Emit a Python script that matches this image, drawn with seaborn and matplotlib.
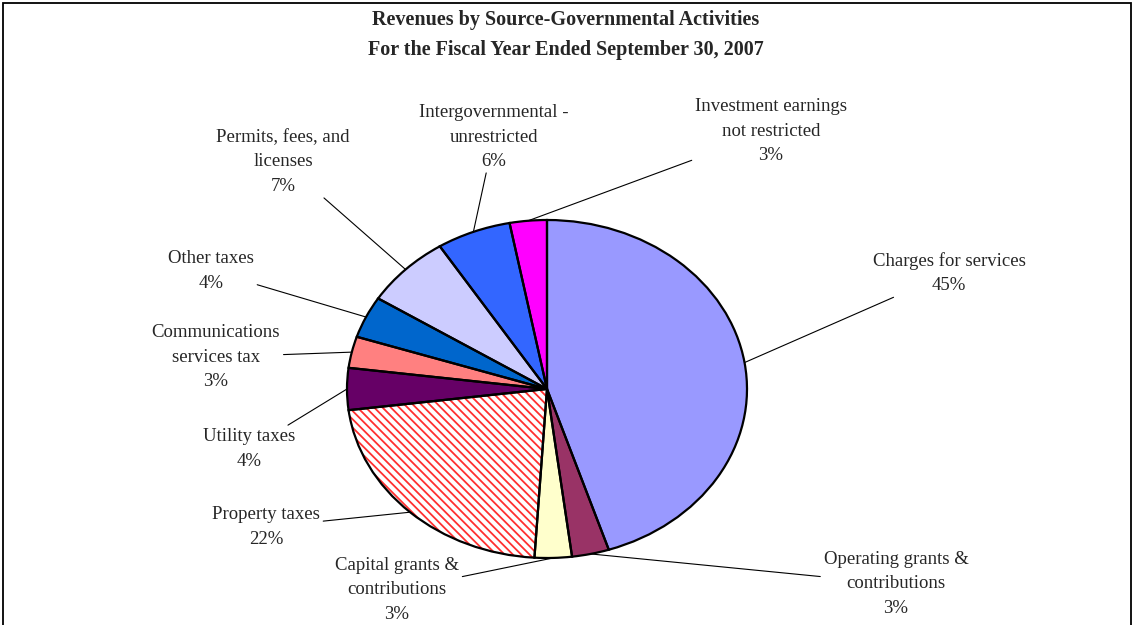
import numpy as np
import matplotlib
matplotlib.use("Agg")
import matplotlib.pyplot as plt
import seaborn as sns
from matplotlib.patches import Rectangle

# data
categories = [
    "Charges for services",
    "Operating grants &\ncontributions",
    "Capital grants &\ncontributions",
    "Property taxes",
    "Utility taxes",
    "Communications\nservices tax",
    "Other taxes",
    "Permits, fees, and\nlicenses",
    "Intergovernmental -\nunrestricted",
    "Investment earnings\nnot restricted",
]
percents = [45, 3, 3, 22, 4, 3, 4, 7, 6, 3]
slice_colors = ["#9999FF", "#993366", "#FFFFCC", "#FFFFFF", "#660066",
                "#FF8080", "#0066CC", "#CCCCFF", "#3366FF", "#FF00FF"]

# label centres in pixels (x, y from top)
label_pos = [(949, 273), (896, 584), (397, 590), (266, 527), (249, 449),
             (216, 357), (211, 271), (283, 162), (494, 137), (771, 131)]

sns.set_style("white")
plt.rcParams["font.family"] = ["Liberation Serif", "DejaVu Serif"]
plt.rcParams["hatch.linewidth"] = 1.3

W, H = 1133, 625
fig = plt.figure(figsize=(W / 100, H / 100), dpi=100)

# elliptical pie: centre (547, 389), semi-axes 200 x 169 px
cx, cy, rx, ry = 547, 389, 200, 169
ax = fig.add_axes([(cx - rx) / W, (H - cy - ry) / H, 2 * rx / W, 2 * ry / H])

wedges, _ = ax.pie(percents, colors=slice_colors, startangle=90, counterclock=False,
                   wedgeprops=dict(linewidth=0))
# property taxes: red diagonal hatch on white
wedges[3].set_hatch("\\\\\\\\")
wedges[3].set_edgecolor("#FF3030")
wedges[3].set_linewidth(0)
# black outlines on top
ax.pie(percents, colors=["none"] * len(percents), startangle=90, counterclock=False,
       wedgeprops=dict(fill=False, edgecolor="black", linewidth=1.6))
ax.set_aspect("auto")
ax.set_xlim(-1.0, 1.0)
ax.set_ylim(-1.0, 1.0)
ax.axis("off")

cum = np.cumsum([0] + percents[:-1])
for i, (name, p) in enumerate(zip(categories, percents)):
    theta = np.deg2rad(90 - 360 * (cum[i] + p / 2) / 100)
    px, py = label_pos[i]
    ax.annotate(f"{name}\n{p}%", xy=(np.cos(theta), np.sin(theta)), xycoords="data",
                xytext=(px, H - py), textcoords="figure pixels",
                ha="center", va="center", multialignment="center",
                fontsize=13.5, linespacing=1.55, annotation_clip=False,
                arrowprops=dict(arrowstyle="-", color="black", lw=0.8,
                                shrinkA=0, shrinkB=0))

fig.text(566 / W, 1 - 35 / H,
         "Revenues by Source-Governmental Activities\nFor the Fiscal Year Ended September 30, 2007",
         ha="center", va="center", fontsize=14.5, fontweight="bold", linespacing=1.6)

# chart frame (bottom edge falls outside the image)
fig.patches.append(Rectangle((2.5 / W, -0.05), (W - 5) / W, 1.05 - 2.5 / H,
                             transform=fig.transFigure, fill=False,
                             edgecolor="black", linewidth=1.3))

fig.savefig("out.png", dpi=100, facecolor="white")
